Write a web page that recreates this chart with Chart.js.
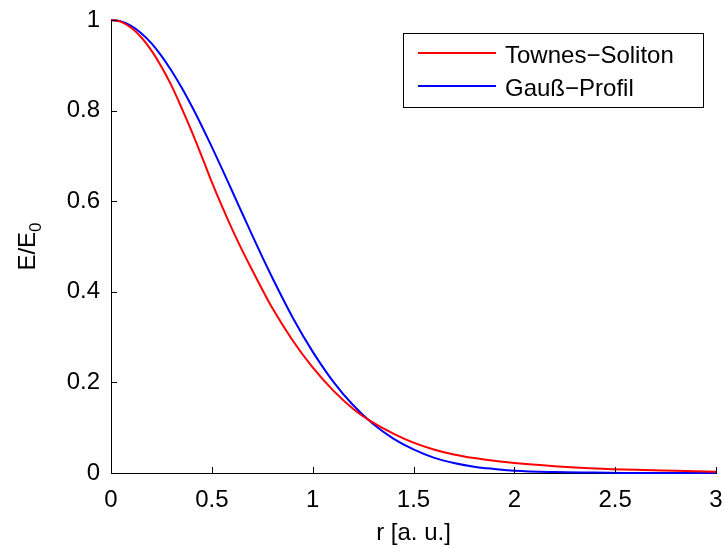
<!DOCTYPE html>
<html>
<head>
<meta charset="utf-8">
<script src="https://cdn.jsdelivr.net/npm/chart.js@4/dist/chart.umd.min.js"></script>
<style>
  html, body { margin: 0; padding: 0; background: #fff; }
  canvas { display: block; }
</style>
</head>
<body>
<canvas id="profileChart" width="724" height="548"></canvas>
<script>
// radius in arbitrary units
const radius = [0, 0.05, 0.1, 0.15, 0.2, 0.25, 0.3, 0.35, 0.4, 0.45, 0.5, 0.55, 0.6, 0.65, 0.7, 0.75,
                0.8, 0.9, 1.0, 1.1, 1.2, 1.3, 1.4, 1.5, 1.6, 1.7, 1.8, 1.9, 2.0, 2.2, 2.4, 2.6, 2.8, 3.0];
// field values
const townes = [1.000, 0.996, 0.983, 0.962, 0.933, 0.897, 0.855, 0.806, 0.754, 0.699, 0.642, 0.589, 0.539, 0.492, 0.448, 0.405,
                0.364, 0.293, 0.233, 0.183, 0.142, 0.111, 0.087, 0.067, 0.052, 0.041, 0.033, 0.027, 0.022, 0.015, 0.010, 0.007, 0.005, 0.003];
const gauss  = [1.000, 0.997, 0.987, 0.971, 0.949, 0.921, 0.888, 0.851, 0.810, 0.766, 0.720, 0.672, 0.623, 0.574, 0.525, 0.477,
                0.431, 0.344, 0.268, 0.203, 0.150, 0.108, 0.076, 0.052, 0.034, 0.022, 0.014, 0.009, 0.005, 0.002, 0.001, 0.000, 0.000, 0.000];
const seriesNames = ['Townes\u2212Soliton', 'Gau\u00df\u2212Profil'];
const xTicks = [0, 0.5, 1, 1.5, 2, 2.5, 3];
const yTicks = [0, 0.2, 0.4, 0.6, 0.8, 1];

const FONT = '"Liberation Sans", Arial, Helvetica, sans-serif';

function toPoints(ys) {
    return radius.map((r, i) => ({ x: r, y: ys[i] }));
}

// matlab style numbers: 1 not 1.0
const plainNumber = v => String(+Number(v).toFixed(2));

// inward tick marks, boxed legend and the E/E0 label
const matlabLook = {
    id: 'matlabLook',
    afterDraw(chart) {
        const ctx = chart.ctx;
        const area = chart.chartArea;
        const xs = chart.scales.x, ys = chart.scales.y;
        ctx.save();
        ctx.strokeStyle = '#000';
        ctx.lineWidth = 1;
        ctx.beginPath();
        xTicks.forEach(v => {
            const px = Math.round(xs.getPixelForValue(v)) + 0.5;
            ctx.moveTo(px, area.bottom);
            ctx.lineTo(px, area.bottom - 6);
        });
        yTicks.forEach(v => {
            const py = Math.round(ys.getPixelForValue(v)) + 0.5;
            ctx.moveTo(area.left, py);
            ctx.lineTo(area.left + 6, py);
        });
        ctx.stroke();

        // legend
        const lx = 403.5, ly = 33.5, lw = 300, lh = 74;
        ctx.fillStyle = '#fff';
        ctx.fillRect(lx, ly, lw, lh);
        ctx.strokeRect(lx, ly, lw, lh);
        ctx.font = '24px ' + FONT;
        ctx.textBaseline = 'alphabetic';
        ctx.textAlign = 'left';
        chart.data.datasets.forEach((ds, i) => {
            const y = 53 + i * 33;
            ctx.strokeStyle = ds.borderColor;
            ctx.lineWidth = 2;
            ctx.beginPath();
            ctx.moveTo(418, y);
            ctx.lineTo(496, y);
            ctx.stroke();
            ctx.fillStyle = '#000';
            ctx.fillText(ds.label, 505, y + 10);
        });

        // y axis title with subscript
        ctx.translate(35, (area.top + area.bottom) / 2);
        ctx.rotate(-Math.PI / 2);
        ctx.fillStyle = '#000';
        ctx.font = '24px ' + FONT;
        const main = 'E/E';
        const wMain = ctx.measureText(main).width;
        ctx.font = '17px ' + FONT;
        const wSub = ctx.measureText('0').width;
        const start = -(wMain + wSub) / 2;
        ctx.font = '24px ' + FONT;
        ctx.fillText(main, start, 0);
        ctx.font = '17px ' + FONT;
        ctx.fillText('0', start + wMain, 6);
        ctx.restore();
    }
};

new Chart(document.getElementById('profileChart').getContext('2d'), {
    type: 'line',
    data: {
        datasets: [{
            label: seriesNames[0],
            data: toPoints(townes),
            borderColor: '#ff0000',
            borderWidth: 2,
            pointRadius: 0,
            cubicInterpolationMode: 'monotone',
            clip: false
        }, {
            label: seriesNames[1],
            data: toPoints(gauss),
            borderColor: '#0000ff',
            borderWidth: 2,
            pointRadius: 0,
            cubicInterpolationMode: 'monotone',
            clip: false
        }]
    },
    options: {
        responsive: false,
        animation: false,
        events: [],
        layout: { padding: { top: 20, right: 8, left: 0, bottom: 0 } },
        scales: {
            x: {
                type: 'linear',
                min: 0,
                max: 3,
                afterFit: s => { s.height = 75; s.paddingLeft = 0; s.paddingRight = 0; },
                afterBuildTicks: s => { s.ticks = xTicks.map(v => ({ value: v })); },
                grid: { display: true, drawOnChartArea: false, drawTicks: false },
                border: { display: true, color: '#000', width: 1 },
                ticks: { color: '#000', padding: 13, font: { family: FONT, size: 24 }, callback: plainNumber },
                title: {
                    display: true,
                    text: 'r [a. u.]',
                    color: '#000',
                    font: { family: FONT, size: 24 },
                    padding: { top: 0, bottom: 0 }
                }
            },
            y: {
                min: 0,
                max: 1,
                afterFit: s => { s.width = 111; s.paddingTop = 0; s.paddingBottom = 0; },
                afterBuildTicks: s => { s.ticks = yTicks.map(v => ({ value: v })); },
                grid: { display: true, drawOnChartArea: false, drawTicks: false },
                border: { display: true, color: '#000', width: 1 },
                ticks: { color: '#000', padding: 11, font: { family: FONT, size: 24 }, callback: plainNumber }
            }
        },
        plugins: {
            legend: { display: false },
            tooltip: { enabled: false }
        }
    },
    plugins: [matlabLook]
});
</script>
</body>
</html>
